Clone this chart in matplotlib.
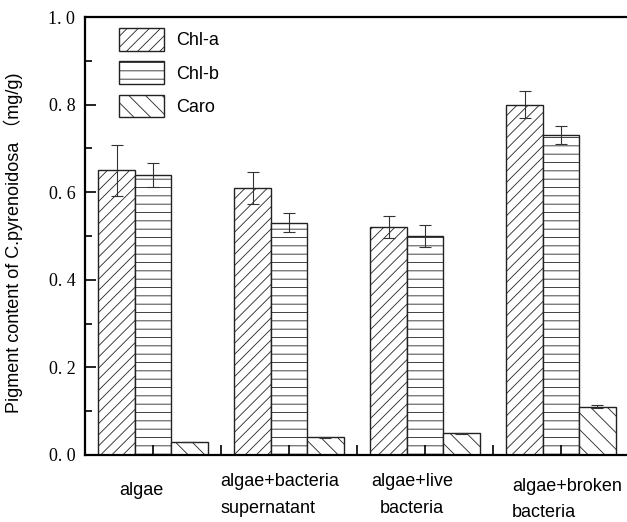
import numpy as np
import matplotlib
matplotlib.use("Agg")
import matplotlib.pyplot as plt
from matplotlib.ticker import MultipleLocator, FixedLocator
from matplotlib.transforms import blended_transform_factory

# --- data ---
groups = ["algae", "algae+bacteria\nsupernatant", "algae+live\nbacteria", "algae+broken\nbacteria"]
series = ["Chl-a", "Chl-b", "Caro"]
chl_a = [0.65, 0.61, 0.52, 0.80]
chl_b = [0.64, 0.53, 0.50, 0.73]
caro = [0.03, 0.04, 0.05, 0.11]
chl_a_err = [0.058, 0.037, 0.025, 0.031]
chl_b_err = [0.027, 0.022, 0.024, 0.021]
caro_err = [0.0, 0.001, 0.001, 0.003]

plt.rcParams['font.family'] = ['Liberation Sans', 'Noto Sans CJK SC', 'DejaVu Sans']
plt.rcParams['hatch.linewidth'] = 0.6

fig = plt.figure(figsize=(6.27, 5.22), dpi=100)
ax = fig.add_axes([0.1356, 0.1284, 0.8675, 0.839])

x = np.arange(len(groups))
w = 0.268
hatches = ['///', '--', '\\\\']
vals = [chl_a, chl_b, caro]
errs = [chl_a_err, chl_b_err, caro_err]
for i, (v, e, h, name) in enumerate(zip(vals, errs, hatches, series)):
    ax.bar(x + (i - 1) * w, v, w, color='white', edgecolor='#222222',
           hatch=h, linewidth=1.0, label=name)
    ax.errorbar(x + (i - 1) * w, v, yerr=e, fmt='none', ecolor='#333333',
                elinewidth=0.8, capsize=4, capthick=0.8)

ax.set_xlim(-0.5, 3.5)
ax.set_ylim(0, 1.0)

# y axis ticks
yt = np.arange(0, 1.01, 0.2)
ax.set_yticks(yt)
ax.yaxis.set_minor_locator(MultipleLocator(0.1))
ax.set_yticklabels([f"{t:.1f}".replace('.', '. ') for t in yt],
                   family='Liberation Serif', fontsize=13)
ax.tick_params(axis='y', which='major', direction='in', length=8, width=1.2, pad=7)
ax.tick_params(axis='y', which='minor', direction='in', length=5, width=1.2)

# x ticks: group centres plus in-between minor ticks, labels placed as text
ax.set_xticks(x)
ax.set_xticklabels([])
ax.xaxis.set_minor_locator(FixedLocator([0.5, 1.5, 2.5]))
ax.tick_params(axis='x', which='both', direction='in', length=7, width=1.2)

label_x = [-0.088, 0.493, 1.904, 2.640]
label_y = [-0.062, -0.041, -0.041, -0.052]
label_ha = ['center', 'left', 'center', 'left']
trans = blended_transform_factory(ax.transData, ax.transAxes)
for lx, ly, ha, g in zip(label_x, label_y, label_ha, groups):
    ax.text(lx, ly, g, transform=trans, ha=ha, va='top', fontsize=13,
            multialignment=ha, linespacing=1.75)

for s in ['left', 'bottom', 'top']:
    ax.spines[s].set_linewidth(1.6)
ax.spines['right'].set_visible(False)

ax.set_ylabel("Pigment content of C.pyrenoidosa \uff08mg/g)", fontsize=13)
ax.yaxis.set_label_coords(-0.114, 0.484)

ax.legend(loc='upper left', bbox_to_anchor=(0.0625, 0.975), frameon=False,
          borderpad=0, borderaxespad=0,
          fontsize=13, handlelength=2.5, handleheight=1.55, labelspacing=0.6,
          handletextpad=0.65)

fig.savefig("out.png", dpi=100)
